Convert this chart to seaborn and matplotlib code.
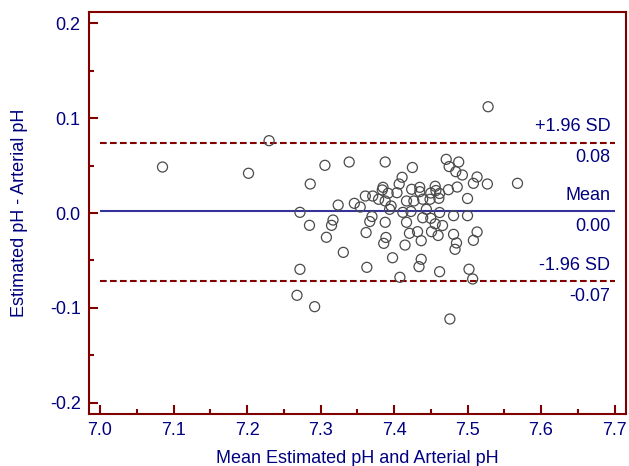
import numpy as np
import pandas as pd
import matplotlib
matplotlib.use("Agg")
import matplotlib.pyplot as plt
from matplotlib.ticker import MultipleLocator, FormatStrFormatter
import seaborn as sns

mean_ph = [
    7.085, 7.202, 7.230, 7.268, 7.272, 7.272, 7.285, 7.286, 7.292, 7.306,
    7.308, 7.315, 7.317, 7.324, 7.331, 7.339, 7.346, 7.354, 7.361, 7.362,
    7.363, 7.367, 7.370, 7.371, 7.379, 7.385, 7.384, 7.386, 7.388, 7.388,
    7.388, 7.389, 7.392, 7.394, 7.396, 7.398, 7.404, 7.407, 7.411, 7.408,
    7.412, 7.415, 7.417, 7.417, 7.421, 7.423, 7.424, 7.425, 7.427, 7.432,
    7.434, 7.435, 7.435, 7.437, 7.437, 7.439, 7.439, 7.444, 7.449, 7.450,
    7.450, 7.451, 7.456, 7.456, 7.457, 7.462, 7.461, 7.462, 7.460, 7.462,
    7.466, 7.471, 7.474, 7.475, 7.476, 7.481, 7.481, 7.483, 7.484, 7.485,
    7.486, 7.488, 7.493, 7.500, 7.500, 7.502, 7.507, 7.508, 7.508, 7.513,
    7.513, 7.527, 7.528, 7.568,
]
diff_ph = [
    0.0485, 0.0419, 0.0763, -0.0868, -0.0594, 0.0007, -0.0130, 0.0306, -0.0988, 0.0503,
    -0.0256, -0.0130, -0.0074, 0.0084, -0.0415, 0.0538, 0.0102, 0.0063, 0.0179, -0.0206,
    -0.0573, -0.0090, -0.0037, 0.0179, 0.0145, 0.0271, 0.0243, -0.0320, 0.0127, -0.0098,
    0.0538, -0.0258, 0.0208, 0.0039, 0.0074, -0.0472, 0.0214, 0.0306, 0.0377, -0.0678,
    0.0007, -0.0338, 0.0127, -0.0098, -0.0214, 0.0016, 0.0250, 0.0480, 0.0127, -0.0197,
    -0.0566, 0.0225, 0.0271, -0.0488, -0.0292, 0.0145, -0.0050, 0.0039, 0.0145, -0.0056,
    0.0211, -0.0197, 0.0282, -0.0114, 0.0237, 0.0206, 0.0155, 0.0005, -0.0237, -0.0619,
    -0.0132, 0.0566, 0.0246, 0.0490, -0.1118, -0.0028, -0.0225, -0.0383, 0.0436, -0.0316,
    0.0274, 0.0538, 0.0401, 0.0153, -0.0028, -0.0593, -0.0696, 0.0313, -0.0288, 0.0380,
    -0.0200, 0.0306, 0.1121, 0.0313,
]

mean_diff = 0.0016
upper_loa = 0.0742
lower_loa = -0.0720
ref_labels = [("+1.96 SD", "0.08"), ("Mean", "0.00"), ("-1.96 SD", "-0.07")]
line_span = (7.0, 7.7)

DARK_RED = "#800000"
NAVY = "#000080"
MEAN_BLUE = "#333399"

sns.set_style("white")
plt.rcParams["font.family"] = ["Liberation Sans", "DejaVu Sans"]
plt.rcParams["axes.unicode_minus"] = False

df = pd.DataFrame({"mean_ph": mean_ph, "diff_ph": diff_ph})

fig = plt.figure(figsize=(6.29, 4.66), dpi=100)
ax = fig.add_axes([0.1415, 0.1116, 0.8537, 0.8626])

sns.scatterplot(data=df, x="mean_ph", y="diff_ph", ax=ax, marker="o",
                facecolor="none", edgecolor="#4a4a4a", linewidth=0.9, s=52,
                zorder=3)

# mean and limits of agreement
ax.hlines(mean_diff, *line_span, color=MEAN_BLUE, lw=1.5, zorder=2)
for val in (upper_loa, lower_loa):
    ax.hlines(val, *line_span, color=DARK_RED, lw=1.5,
              linestyles=(0, (3.2, 1.6)), zorder=2)

for val, (above, below) in zip([upper_loa, mean_diff, lower_loa], ref_labels):
    ax.annotate(above, (line_span[1], val), xytext=(-3, 11.5),
                textcoords="offset points", ha="right", va="center",
                color=NAVY, fontsize=13)
    ax.annotate(below, (line_span[1], val), xytext=(-3, -11),
                textcoords="offset points", ha="right", va="center",
                color=NAVY, fontsize=13)

ax.set_xlim(6.985, 7.7156)
ax.set_ylim(-0.212, 0.212)
ax.xaxis.set_major_locator(MultipleLocator(0.1))
ax.xaxis.set_minor_locator(MultipleLocator(0.05))
ax.yaxis.set_major_locator(MultipleLocator(0.1))
ax.yaxis.set_minor_locator(MultipleLocator(0.05))
ax.xaxis.set_major_formatter(FormatStrFormatter("%.1f"))
ax.yaxis.set_major_formatter(FormatStrFormatter("%.1f"))

ax.tick_params(which="both", direction="in", color=DARK_RED, width=1.5,
               labelcolor=NAVY, labelsize=13, top=False, right=False,
               left=True, bottom=True)
ax.tick_params(which="major", length=6.5, pad=6)
ax.tick_params(which="minor", length=3.5)

for sp in ax.spines.values():
    sp.set_color(DARK_RED)
    sp.set_linewidth(1.5)

ax.set_xlabel("Mean Estimated pH and Arterial pH", color=NAVY, fontsize=13,
              labelpad=8)
ax.set_ylabel("Estimated pH - Arterial pH", color=NAVY, fontsize=13,
              labelpad=16)

fig.savefig("out.png", dpi=100)
